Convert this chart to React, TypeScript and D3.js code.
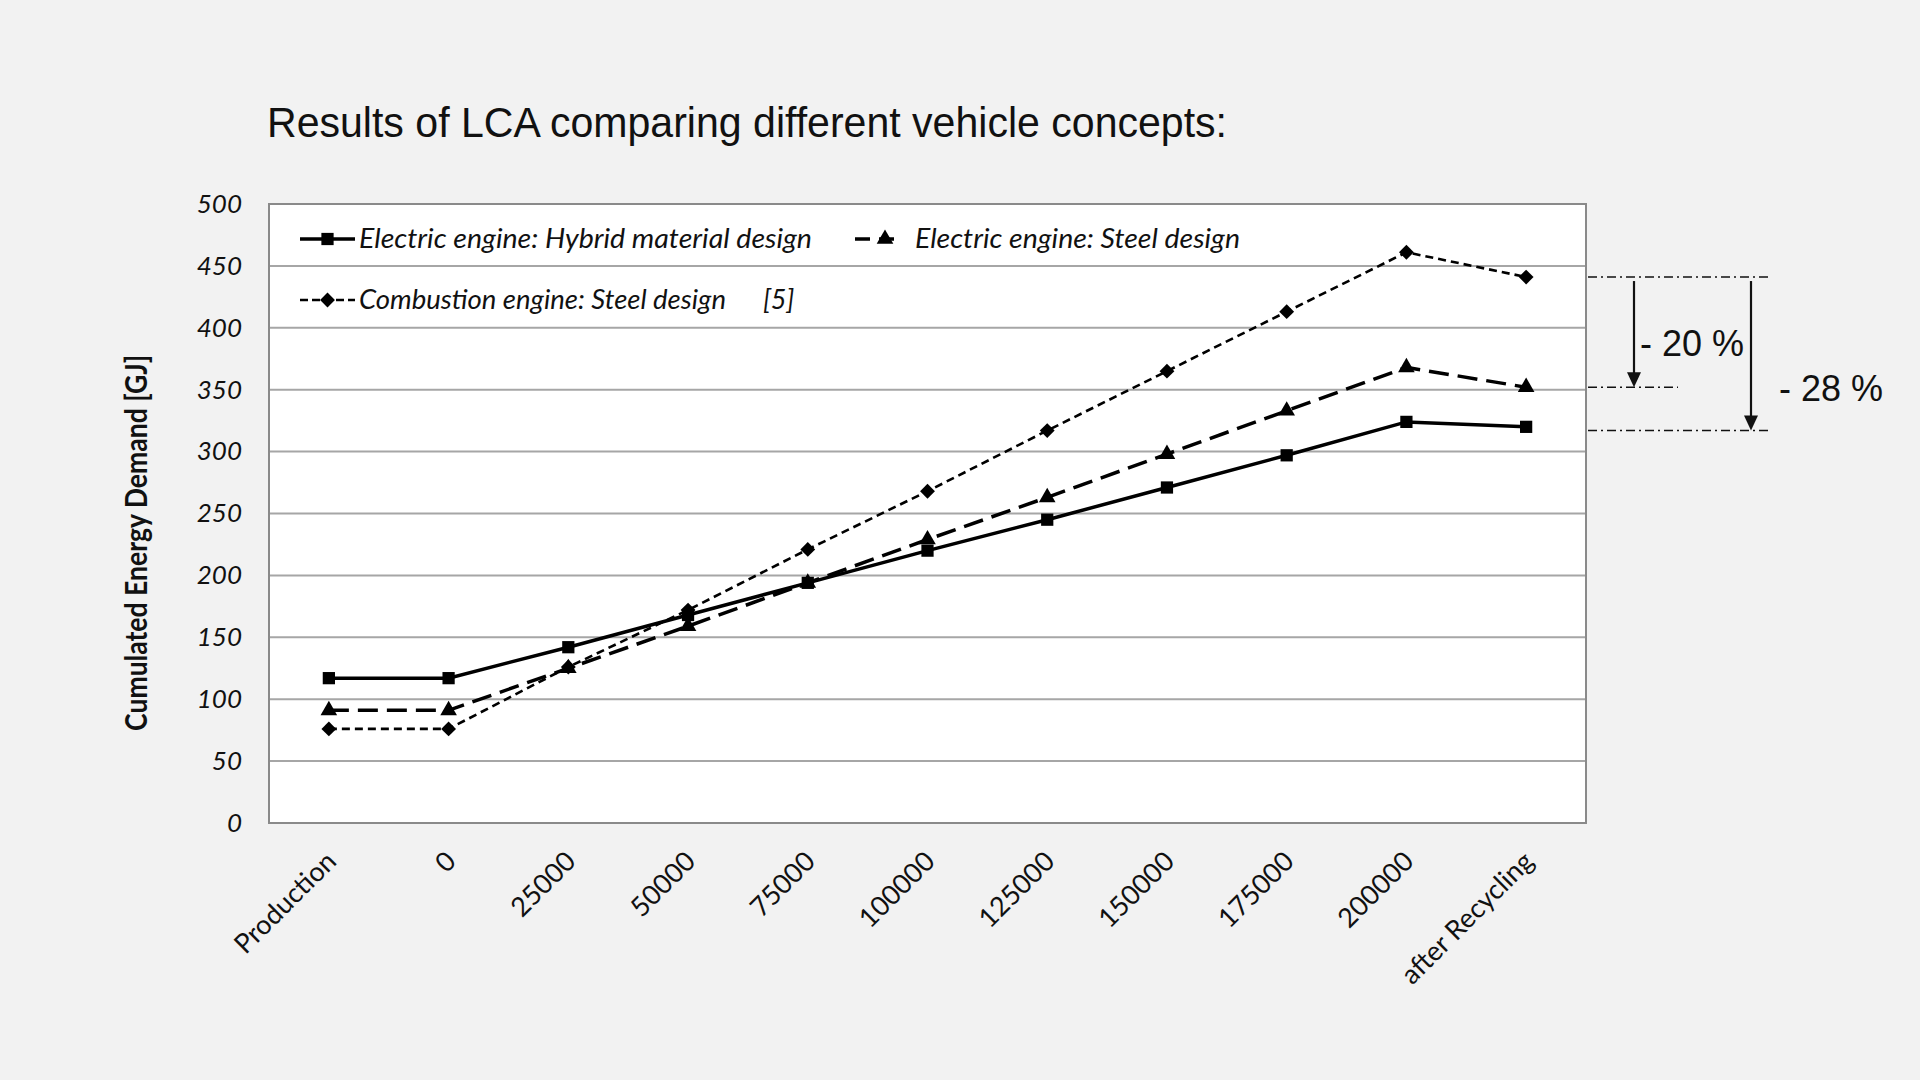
import { useRef, useEffect } from "react";
import * as d3 from "d3";

// categories along the x axis (driven distance in km)
const categories = [
  "Production",
  "0",
  "25000",
  "50000",
  "75000",
  "100000",
  "125000",
  "150000",
  "175000",
  "200000",
  "after Recycling",
];

// cumulated energy demand [GJ]
const hybridElectric = [117, 117, 142, 168, 194, 220, 245, 271, 297, 324, 320];
const steelElectric = [91, 91, 125, 159, 194, 229, 263, 298, 333, 368, 352];
const steelCombustion = [76, 76, 126, 172, 221, 268, 317, 365, 413, 461, 441];

const yTicks = [0, 50, 100, 150, 200, 250, 300, 350, 400, 450, 500];

// reference levels of the savings annotation (after recycling)
const refLevels = [441, 352, 317];
const savingLabels = ["- 20 %", "- 28 %"];

const W = 1920;
const H = 1080;

export default function App() {
  const svgRef = useRef<SVGSVGElement | null>(null);

  useEffect(() => {
    const margin = { top: 204, right: 334, bottom: 257, left: 269 };
    const innerWidth = W - margin.left - margin.right;
    const innerHeight = H - margin.top - margin.bottom;

    const x = d3.scaleBand().domain(categories).range([0, innerWidth]).padding(0);
    const cx = (c: string) => (x(c) || 0) + x.bandwidth() / 2;
    const y = d3.scaleLinear().domain([0, 500]).range([innerHeight, 0]);

    const svg = d3.select(svgRef.current);
    svg.selectAll("*").remove();

    svg.append("rect").attr("width", W).attr("height", H).attr("fill", "#f2f2f2");

    // title
    svg
      .append("text")
      .attr("x", 267)
      .attr("y", 137)
      .attr("font-family", "'Liberation Sans', Arial, sans-serif")
      .attr("font-size", 42)
      .attr("textLength", 960)
      .attr("lengthAdjust", "spacingAndGlyphs")
      .attr("fill", "#111")
      .text("Results of LCA comparing different vehicle concepts:");

    const g = svg.append("g").attr("transform", `translate(${margin.left},${margin.top})`);

    g.append("rect")
      .attr("width", innerWidth)
      .attr("height", innerHeight)
      .attr("fill", "#fff");

    // gridlines
    g.selectAll(".grid")
      .data(yTicks.slice(1, -1))
      .join("line")
      .attr("class", "grid")
      .attr("x1", 0)
      .attr("x2", innerWidth)
      .attr("y1", (d) => y(d))
      .attr("y2", (d) => y(d))
      .attr("stroke", "#a6a6a6")
      .attr("stroke-width", 2);

    g.append("rect")
      .attr("width", innerWidth)
      .attr("height", innerHeight)
      .attr("fill", "none")
      .attr("stroke", "#8a8a8a")
      .attr("stroke-width", 2);

    // y axis labels
    const yAxis = g
      .append("g")
      .call(d3.axisLeft(y).tickValues(yTicks).tickSize(0).tickPadding(27));
    yAxis.select(".domain").remove();
    yAxis
      .selectAll("text")
      .attr("font-family", "Lato, sans-serif")
      .attr("font-style", "italic")
      .attr("font-size", 26)
      .attr("fill", "#111");

    svg
      .append("text")
      .attr("transform", `translate(147,543) rotate(-90)`)
      .attr("text-anchor", "middle")
      .attr("font-family", "Lato, sans-serif")
      .attr("font-weight", "bold")
      .attr("font-size", 30)
      .attr("textLength", 376)
      .attr("lengthAdjust", "spacingAndGlyphs")
      .attr("fill", "#111")
      .text("Cumulated Energy Demand [GJ]");

    // x labels
    g.selectAll(".xlab")
      .data(categories)
      .join("text")
      .attr("class", "xlab")
      .attr("transform", (d) => `translate(${cx(d) + 9},${innerHeight + 40}) rotate(-45)`)
      .attr("text-anchor", "end")
      .attr("font-family", "Lato, sans-serif")
      .attr("font-size", 27)
      .attr("fill", "#111")
      .text((d) => d);

    const series = [
      { name: "Electric engine: Hybrid material design", values: hybridElectric, dash: "none", width: 3.5, symbol: d3.symbolSquare, size: 150, rot: 0 },
      { name: "Electric engine: Steel design", values: steelElectric, dash: "20,9", width: 3.5, symbol: d3.symbolTriangle, size: 120, rot: 0 },
      { name: "Combustion engine: Steel design", values: steelCombustion, dash: "8,5", width: 2.6, symbol: d3.symbolSquare, size: 110, rot: 45 },
    ];

    const line = d3
      .line<number>()
      .x((_, i) => cx(categories[i]))
      .y((d) => y(d));

    series.forEach((s) => {
      g.append("path")
        .attr("d", line(s.values))
        .attr("fill", "none")
        .attr("stroke", "#000")
        .attr("stroke-width", s.width)
        .attr("stroke-dasharray", s.dash);
      g.selectAll(null)
        .data(s.values)
        .join("path")
        .attr("d", d3.symbol(s.symbol, s.size)() as string)
        .attr("transform", (d, i) => `translate(${cx(categories[i])},${y(d)}) rotate(${s.rot})`)
        .attr("fill", "#000");
    });

    // legend
    const legendItems = [
      { s: series[0], x0: 31, x1: 86, tx: 90, ty: 35 },
      { s: series[1], x0: 586, x1: 630, tx: 646, ty: 35 },
      { s: series[2], x0: 31, x1: 86, tx: 90, ty: 96 },
    ];
    const textLens = [453, 325, 367];
    legendItems.forEach((it, k) => {
      g.append("line")
        .attr("x1", it.x0)
        .attr("x2", it.x1)
        .attr("y1", it.ty)
        .attr("y2", it.ty)
        .attr("stroke", "#000")
        .attr("stroke-width", it.s.width)
        .attr("stroke-dasharray", k === 1 ? "15,9" : k === 2 ? "8,4" : "none");
      g.append("path")
        .attr("d", d3.symbol(it.s.symbol, it.s.size)() as string)
        .attr("transform", `translate(${k === 1 ? 616 : (it.x0 + it.x1) / 2},${it.ty}) rotate(${it.s.rot})`)
        .attr("fill", "#000");
      g.append("text")
        .attr("x", it.tx)
        .attr("y", it.ty)
        .attr("dy", "0.35em")
        .attr("font-family", "Lato, sans-serif")
        .attr("font-style", "italic")
        .attr("font-size", 27)
        .attr("textLength", textLens[k])
        .attr("lengthAdjust", "spacingAndGlyphs")
        .attr("fill", "#111")
        .text(it.s.name);
    });
    g.append("text")
      .attr("x", 494)
      .attr("y", 96)
      .attr("dy", "0.35em")
      .attr("font-family", "Lato, sans-serif")
      .attr("font-style", "italic")
      .attr("font-size", 27)
      .attr("fill", "#111")
      .text("[5]");

    // savings annotation (right of plot)
    const ann = g.append("g").attr("transform", `translate(${innerWidth},0)`);
    const ends = [186, 92, 186];
    refLevels.forEach((v, i) => {
      ann
        .append("line")
        .attr("x1", 2)
        .attr("x2", ends[i])
        .attr("y1", y(v))
        .attr("y2", y(v))
        .attr("stroke", "#111")
        .attr("stroke-width", 1.6)
        .attr("stroke-dasharray", "9,4,2,4");
    });
    const arrows = [
      { x: 48, to: refLevels[1], lx: 54, ly: y(refLevels[1]) - 31 },
      { x: 165, to: refLevels[2], lx: 193, ly: y(refLevels[2]) - 30 },
    ];
    arrows.forEach((a, i) => {
      const yTop = y(refLevels[0]) + 4;
      const yTip = y(a.to);
      ann
        .append("line")
        .attr("x1", a.x)
        .attr("x2", a.x)
        .attr("y1", yTop)
        .attr("y2", yTip - 12)
        .attr("stroke", "#111")
        .attr("stroke-width", 2.2);
      ann
        .append("path")
        .attr("d", `M${a.x - 7},${yTip - 15} L${a.x + 7},${yTip - 15} L${a.x},${yTip} Z`)
        .attr("fill", "#111");
      ann
        .append("text")
        .attr("x", a.lx)
        .attr("y", a.ly)
        .attr("font-family", "'Liberation Sans', Arial, sans-serif")
        .attr("font-size", 36)
        .attr("fill", "#111")
        .text(savingLabels[i]);
    });
  }, []);

  return (
    <div style={{ position: "fixed", left: 0, top: 0 }}>
      <svg ref={svgRef} width={W} height={H} viewBox={`0 0 ${W} ${H}`}></svg>
    </div>
  );
}
